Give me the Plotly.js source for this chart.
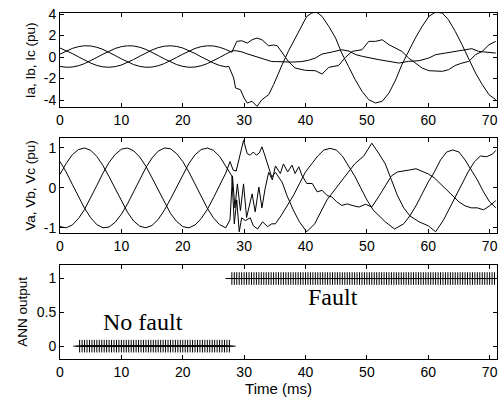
<!DOCTYPE html>
<html>
<head>
<meta charset="utf-8">
<script src="https://cdn.plot.ly/plotly-3.0.1.min.js"></script>
<style>html,body{margin:0;padding:0;background:#fff;}#chart{width:498px;height:400px;}</style>
</head>
<body>
<div id="chart"></div>
<script>
// ---------- Currents (top panel) ----------
const iaT = [0,1,2,3,4,5,6,7,8,9,10,11,12,13,14,15,16,17,18,19,20,21,22,23,24,25,26,27,28,
  28.8,29.6,30.5,31.3,32.1,32.9,34.0,34.8,35.4,36.4,37.2,38.3,40.0,41.6,42.7,43.8,45.4,46.5,47.6,49.2,50.3,51.4,52.5,53.6,54.7,55.7,56.8,57.9,59.0,60.1,61.2,62.3,63.3,64.4,65.5,66.6,67.7,68.8,69.9,71.0];
const iaV = [0.27,0.56,0.80,0.97,1.05,1.03,0.91,0.71,0.45,0.14,-0.17,-0.46,-0.70,-0.87,-0.95,-0.93,-0.81,-0.61,-0.35,-0.04,0.27,0.56,0.80,0.97,1.05,1.03,0.91,0.71,0.45,
  1.46,1.52,1.30,1.61,1.77,1.61,1.05,1.12,1.05,0.22,-0.40,-1.02,-1.24,-1.27,-1.58,-0.96,-0.78,-0.03,0.53,0.68,1.46,1.46,1.61,1.15,0.84,0.53,-0.09,-0.56,-1.02,-1.27,-1.33,-1.33,-1.18,-0.78,-0.56,-0.40,0.22,0.53,1.15,1.46];

const ibT = [0,1,2,3,4,5,6,7,8,9,10,11,12,13,14,15,16,17,18,19,20,21,22,23,24,25,26,27,28,
  28.5,29.5,30.5,31.5,32.5,33.5,34.5,35.1,36.7,37.8,39.4,40.5,41.6,42.7,44.3,45.9,47.1,48.2,49.3,50.3,52.0,53.6,55.2,56.8,58.5,60.1,61.2,62.8,64.4,66.0,67.1,68.2,71.0];
const ibV = [-0.87,-0.95,-0.93,-0.81,-0.61,-0.35,-0.04,0.27,0.56,0.80,0.97,1.05,1.03,0.91,0.71,0.45,0.14,-0.17,-0.46,-0.70,-0.87,-0.95,-0.93,-0.81,-0.61,-0.35,-0.04,0.27,0.56,
  0.60,0.50,0.30,0.12,-0.05,-0.30,-0.42,-0.42,-0.45,-0.47,-0.42,-0.30,-0.09,0.28,0.47,0.68,0.55,0.22,0.06,-0.03,-0.25,-0.40,-0.56,-0.40,-0.34,-0.09,0.22,0.37,0.53,0.68,0.78,0.53,0.37];

const icT = [0,1,2,3,4,5,6,7,8,9,10,11,12,13,14,15,16,17,18,19,20,21,22,23,24,25,26,27,27.5,
  28.3,28.6,29.4,30.0,30.5,31.3,32.1,32.9,34.0,34.8,35.6,36.2,37.2,38.3,39.4,40.2,41.0,41.8,42.7,43.8,44.9,45.9,47.0,48.1,49.2,50.3,51.4,52.5,53.6,54.7,55.7,56.8,57.9,59.0,60.1,61.2,62.3,63.3,64.4,65.5,66.6,67.7,68.8,69.9,71.0];
const icV = [0.84,0.61,0.33,0.02,-0.29,-0.56,-0.78,-0.91,-0.95,-0.89,-0.74,-0.51,-0.23,0.08,0.39,0.66,0.88,1.01,1.05,0.99,0.84,0.61,0.33,0.02,-0.29,-0.56,-0.78,-0.91,-0.87,
  -1.95,-2.88,-3.04,-3.81,-4.28,-4.12,-4.59,-3.97,-3.50,-2.57,-1.60,-0.71,0.53,1.77,3.00,3.78,4.09,4.19,3.78,2.85,1.77,0.37,-0.87,-2.11,-3.19,-3.97,-4.28,-4.12,-3.35,-2.11,-0.71,0.53,1.77,2.85,3.78,4.19,4.09,3.47,2.39,1.15,-0.25,-1.49,-2.57,-3.50,-3.97];

// ---------- Voltages (middle panel) ----------
const vaT = [0,1,2,3,4,5,6,7,8,9,10,11,12,13,14,15,16,17,18,19,20,21,22,23,24,25,26,27,28,
  28.4,28.8,29.2,29.6,30.2,31.0,31.5,32.2,33.0,33.8,34.5,35.1,36,37,38,39,40,41,42,43,44,45,46,47,48,49,50,51,52,53,54.5,56,57,58,59,60,61,62,63,64,65,66,67,68,69,70,71];
const vaV = [0.34,0.61,0.83,0.96,1.0,0.94,0.79,0.56,0.28,-0.03,-0.34,-0.61,-0.83,-0.96,-1.0,-0.94,-0.79,-0.56,-0.28,0.03,0.34,0.61,0.83,0.96,1.0,0.94,0.79,0.56,0.30,
  -0.90,-0.30,-1.10,-0.75,-0.82,-0.75,-0.95,-1.03,-0.85,-0.97,-0.90,-0.90,-0.70,-0.45,-0.20,0.10,0.40,0.60,0.80,0.95,0.99,0.95,0.80,0.55,0.30,0.00,-0.30,-0.55,-0.70,-0.85,-1.03,-0.90,-0.70,-0.45,-0.15,0.15,0.40,0.70,0.90,0.95,0.90,0.70,0.45,0.20,-0.10,-0.35,-0.50];

const vbT = [0,1,2,3,4,5,6,7,8,9,10,11,12,13,14,15,16,17,18,19,20,21,22,23,24,25,26,27,
  27.7,28.2,28.7,29.2,29.9,30.5,31.0,31.5,32.0,32.5,32.9,33.3,33.7,34.5,35.1,35.6,36.2,37,38,39,40.2,41.5,42.5,43.5,45,46.5,48,49.5,50.8,52,53,54,55,56,57,58.5,60,61.2,62.5,63.5,64.5,65.5,66.5,67.5,68.5,69.5,70.5,71];
const vbV = [-0.97,-1.0,-0.93,-0.77,-0.54,-0.25,0.06,0.37,0.64,0.84,0.97,1.0,0.93,0.77,0.54,0.25,-0.06,-0.37,-0.64,-0.84,-0.97,-1.0,-0.93,-0.77,-0.54,-0.25,0.06,0.37,
  0.66,0.45,0.42,0.75,1.19,0.86,0.82,0.90,0.82,0.88,1.03,0.85,0.65,0.27,0.39,0.27,0.14,-0.20,-0.55,-0.85,-1.10,-0.90,-0.60,-0.30,0.00,0.30,0.60,0.80,1.12,0.85,0.60,0.20,-0.20,-0.50,-0.70,-0.85,-0.95,-1.10,-0.80,-0.50,-0.20,0.10,0.40,0.65,0.80,0.78,0.85,0.94];

const vcT = [0,1,2,3,4,5,6,7,8,9,10,11,12,13,14,15,16,17,18,19,20,21,22,23,24,25,26,27,
  27.7,28.1,28.5,28.9,29.4,29.9,30.4,31.3,31.8,32.4,32.9,33.4,34.0,34.6,35.1,35.9,36.4,37.1,37.8,38.3,38.9,39.4,40.2,41.1,41.9,42.7,43.5,44.3,45.1,45.9,46.8,47.6,48.7,49.8,50.8,52,53,54,55,56,57,58,59,60,61,62,63,64,65,66,67,68,69,70,71];
const vcV = [0.66,0.40,0.09,-0.22,-0.51,-0.75,-0.92,-1.0,-0.98,-0.86,-0.66,-0.40,-0.09,0.22,0.51,0.75,0.92,1.0,0.98,0.86,0.66,0.40,0.09,-0.22,-0.51,-0.75,-0.92,-1.0,
  -0.80,0.30,-0.50,0.10,-0.57,0.10,-0.74,-0.15,-0.60,0.02,-0.50,-0.03,0.39,0.20,0.55,0.36,0.60,0.40,0.57,0.36,0.53,0.32,0.11,0.11,-0.10,-0.06,-0.19,-0.23,-0.35,-0.44,-0.40,-0.44,-0.48,-0.41,-0.48,-0.20,0.05,0.30,0.40,0.42,0.45,0.48,0.42,0.35,0.25,0.10,-0.05,-0.20,-0.35,-0.45,-0.50,-0.50,-0.55,-0.45,-0.32];

// ---------- ANN output (bottom panel) ----------
const noFaultT = [3.2,3.6,4,4.4,4.8,5.2,5.6,6,6.4,6.8,7.2,7.6,8,8.4,8.8,9.2,9.6,10,10.4,10.8,11.2,11.6,12,12.4,12.8,13.2,13.6,14,14.4,14.8,15.2,15.6,16,16.4,16.8,17.2,17.6,18,18.4,18.8,19.2,19.6,20,20.4,20.8,21.2,21.6,22,22.4,22.8,23.2,23.6,24,24.4,24.8,25.2,25.6,26,26.4,26.8,27.2,27.6];
const noFaultY = [0,0,0,0,0,0,0,0,0,0,0,0,0,0,0,0,0,0,0,0,0,0,0,0,0,0,0,0,0,0,0,0,0,0,0,0,0,0,0,0,0,0,0,0,0,0,0,0,0,0,0,0,0,0,0,0,0,0,0,0,0,0];
const faultT = [28,28.4,28.8,29.2,29.6,30,30.4,30.8,31.2,31.6,32,32.4,32.8,33.2,33.6,34,34.4,34.8,35.2,35.6,36,36.4,36.8,37.2,37.6,38,38.4,38.8,39.2,39.6,40,40.4,40.8,41.2,41.6,42,42.4,42.8,43.2,43.6,44,44.4,44.8,45.2,45.6,46,46.4,46.8,47.2,47.6,48,48.4,48.8,49.2,49.6,50,50.4,50.8,51.2,51.6,52,52.4,52.8,53.2,53.6,54,54.4,54.8,55.2,55.6,56,56.4,56.8,57.2,57.6,58,58.4,58.8,59.2,59.6,60,60.4,60.8,61.2,61.6,62,62.4,62.8,63.2,63.6,64,64.4,64.8,65.2,65.6,66,66.4,66.8,67.2,67.6,68,68.4,68.8,69.2,69.6,70,70.4,70.8];
const faultY = [1,1,1,1,1,1,1,1,1,1,1,1,1,1,1,1,1,1,1,1,1,1,1,1,1,1,1,1,1,1,1,1,1,1,1,1,1,1,1,1,1,1,1,1,1,1,1,1,1,1,1,1,1,1,1,1,1,1,1,1,1,1,1,1,1,1,1,1,1,1,1,1,1,1,1,1,1,1,1,1,1,1,1,1,1,1,1,1,1,1,1,1,1,1,1,1,1,1,1,1,1,1,1,1,1,1,1,1];

const xTicks = [0,10,20,30,40,50,60,70];
const yTicksI = [-4,-2,0,2,4];
const yTicksV = [-1,0,1];
const yTicksA = [0,0.5,1];

const lineStyle = {color:'#000', width:1};
function tr(x, y, xa, ya) {
  return {x:x, y:y, xaxis:xa, yaxis:ya, type:'scatter', mode:'lines', line:lineStyle, hoverinfo:'skip'};
}
const data = [
  tr(iaT, iaV, 'x', 'y'), tr(ibT, ibV, 'x', 'y'), tr(icT, icV, 'x', 'y'),
  tr(vaT, vaV, 'x2', 'y2'), tr(vbT, vbV, 'x2', 'y2'), tr(vcT, vcV, 'x2', 'y2'),
  {x:noFaultT, y:noFaultY, xaxis:'x3', yaxis:'y3', type:'scatter', mode:'markers',
   marker:{symbol:'cross-thin', size:9, line:{color:'#000', width:1}}},
  {x:faultT, y:faultY, xaxis:'x3', yaxis:'y3', type:'scatter', mode:'markers',
   marker:{symbol:'cross-thin', size:9, line:{color:'#000', width:1}}}
];

const sans = 'Liberation Sans, Arial, Helvetica, sans-serif';
const tickFont = {family:sans, size:14, color:'#000'};
function xAx(anchor, title) {
  const a = {anchor:anchor, range:[0,71.2], tickvals:xTicks, ticktext:xTicks.map(String),
    showline:true, linecolor:'#000', linewidth:1, mirror:'ticks', ticks:'inside', ticklen:4,
    tickcolor:'#000', showgrid:false, zeroline:false, tickfont:tickFont, fixedrange:true};
  if (title) a.title = {text:title, font:{family:sans, size:15, color:'#000'}, standoff:2};
  return a;
}
function yAx(anchor, domain, range, ticks) {
  return {anchor:anchor, domain:domain, range:range, tickvals:ticks, ticktext:ticks.map(String),
    showline:true, linecolor:'#000', linewidth:1, mirror:'ticks', ticks:'inside', ticklen:4,
    tickcolor:'#000', showgrid:false, zeroline:false, tickfont:tickFont, fixedrange:true};
}
const titleFont = {family:sans, size:13.5, color:'#000'};

const layout = {
  width:498, height:400,
  margin:{l:60, r:1, t:13, b:41},
  paper_bgcolor:'#fff', plot_bgcolor:'#fff',
  showlegend:false,
  xaxis: xAx('y'),
  yaxis: yAx('x', [0.7283, 1.0], [-4.65, 4.1], yTicksI),
  xaxis2: xAx('y2'),
  yaxis2: yAx('x2', [0.3642, 0.6387], [-1.13, 1.25], yTicksV),
  xaxis3: xAx('y3', 'Time (ms)'),
  yaxis3: yAx('x3', [0, 0.2717], [-0.19, 1.2], yTicksA),
  annotations:[
    {xref:'paper', yref:'paper', x:-0.068, y:0.864, text:'Ia, Ib, Ic (pu)', textangle:-90, showarrow:false,
     xanchor:'center', yanchor:'middle', font:titleFont},
    {xref:'paper', yref:'paper', x:-0.068, y:0.5015, text:'Va, Vb, Vc (pu)', textangle:-90, showarrow:false,
     xanchor:'center', yanchor:'middle', font:titleFont},
    {xref:'paper', yref:'paper', x:-0.085, y:0.136, text:'ANN output', textangle:-90, showarrow:false,
     xanchor:'center', yanchor:'middle', font:titleFont},
    {xref:'x3', yref:'y3', x:13.5, y:0.36, text:'No fault', showarrow:false,
     font:{family:'Liberation Serif, Times New Roman, serif', size:24, color:'#000'}},
    {xref:'x3', yref:'y3', x:44.5, y:0.72, text:'Fault', showarrow:false,
     font:{family:'Liberation Serif, Times New Roman, serif', size:24, color:'#000'}}
  ]
};
Plotly.newPlot('chart', data, layout, {displayModeBar:false, staticPlot:true});
</script>
</body>
</html>
